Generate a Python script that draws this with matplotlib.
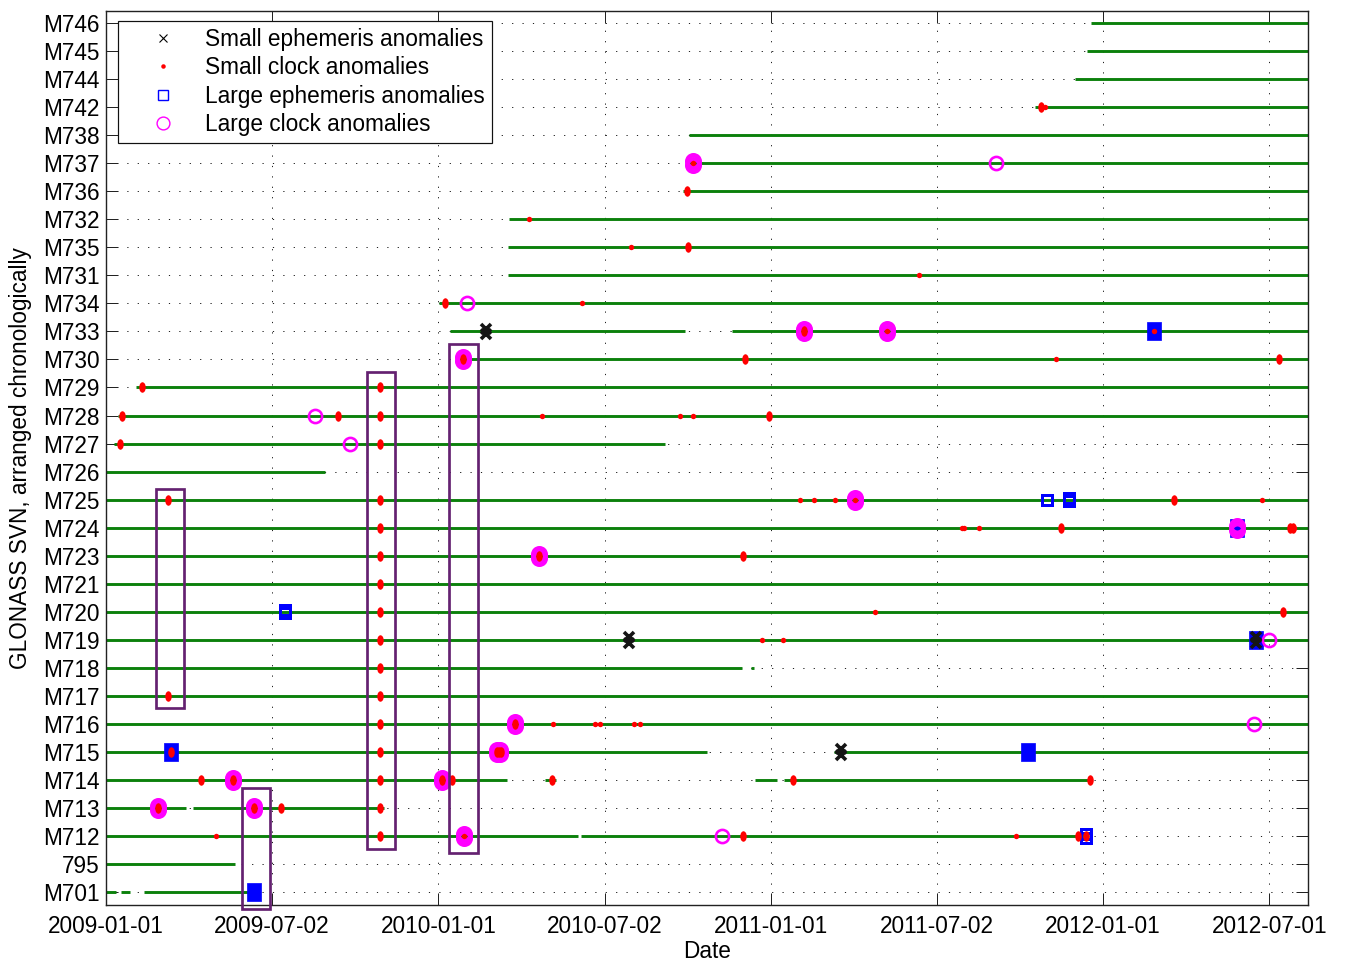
import numpy as np
import matplotlib
matplotlib.use('Agg')
import matplotlib.pyplot as plt
import matplotlib.dates as mdates
from matplotlib.path import Path
from matplotlib.patches import Rectangle
from matplotlib.lines import Line2D
from matplotlib.markers import MarkerStyle

plt.rcParams['font.family'] = ['Liberation Sans', 'DejaVu Sans']

# ---------------- data ----------------
svn_labels = ['M701', '795', 'M712', 'M713', 'M714', 'M715', 'M716', 'M717', 'M718',
              'M719', 'M720', 'M721', 'M723', 'M724', 'M725', 'M726', 'M727', 'M728',
              'M729', 'M730', 'M733', 'M734', 'M731', 'M735', 'M732', 'M736', 'M737',
              'M738', 'M742', 'M744', 'M745', 'M746']

x_start = '2009-01-01'
x_end = '2012-08-13'
tick_dates = ['2009-01-01', '2009-07-02 12:00', '2010-01-01', '2010-07-02 12:00',
              '2011-01-01', '2011-07-02 12:00', '2012-01-01', '2012-07-01 12:00']
tick_labels = ['2009-01-01', '2009-07-02', '2010-01-01', '2010-07-02',
               '2011-01-01', '2011-07-02', '2012-01-01', '2012-07-01']

END = x_end
avail_svn = ['M701', 'M701', 'M701', '795', 'M712', 'M712', 'M713', 'M713',
             'M714', 'M714', 'M714', 'M714', 'M715', 'M715', 'M716', 'M717',
             'M718', 'M718', 'M719', 'M720', 'M721', 'M723', 'M724', 'M725',
             'M726', 'M727', 'M728', 'M729', 'M730', 'M733', 'M733', 'M734',
             'M731', 'M735', 'M732', 'M736', 'M737', 'M738', 'M742', 'M744',
             'M745', 'M746']
avail_start = ['2009-01-01', '2009-01-17', '2009-02-12', '2009-01-01', '2009-01-01', '2010-06-07',
               '2009-01-01', '2009-04-06', '2009-01-01', '2010-04-28', '2010-12-15', '2011-01-16',
               '2009-01-01', '2011-03-11', '2009-01-01', '2009-01-01', '2009-01-01', '2010-12-10',
               '2009-01-01', '2009-01-01', '2009-01-01', '2009-01-01', '2009-01-01', '2009-01-01',
               '2009-01-01', '2009-01-10', '2009-01-14', '2009-02-03', '2010-01-21', '2010-01-14',
               '2010-11-20', '2010-01-02', '2010-03-18', '2010-03-19', '2010-03-20', '2010-09-27',
               '2010-10-03', '2010-10-03', '2011-10-18', '2011-12-01', '2011-12-14', '2011-12-19']
avail_end = ['2009-01-12', '2009-01-27', '2009-06-14', '2009-05-23', '2010-06-03', '2011-12-16',
             '2009-03-30', '2009-11-02', '2010-03-17', '2010-05-10', '2011-01-08', '2011-12-18',
             '2010-10-23', END, END, END, '2010-11-30', '2010-12-14',
             END, END, END, END, END, END,
             '2009-08-30', '2010-09-07', END, END, END, '2010-09-29',
             END, END, END, END, END, END,
             END, END, END, END, END, END]

# small ephemeris anomalies (black x), n = number of overlapping detections
small_eph_svn = ['M733', 'M719', 'M715', 'M719']
small_eph_date = ['2010-02-22', '2010-07-29', '2011-03-19', '2012-06-17']
small_eph_n = [2, 2, 2, 2]

# small clock anomalies (red dots)
box3_svn = ['M712', 'M713', 'M714', 'M715', 'M716', 'M717', 'M718', 'M719', 'M720',
            'M721', 'M723', 'M724', 'M725', 'M727', 'M728', 'M729']
small_clk_svn = (['M725', 'M717'] + box3_svn +
                 ['M742', 'M742', 'M737', 'M736', 'M732', 'M735', 'M735', 'M731',
                  'M734', 'M734', 'M733', 'M733', 'M733',
                  'M730', 'M730', 'M730', 'M730', 'M729',
                  'M728', 'M728', 'M728', 'M728', 'M728', 'M728', 'M727',
                  'M725', 'M725', 'M725', 'M725', 'M725', 'M725',
                  'M724', 'M724', 'M724', 'M724', 'M724', 'M724', 'M724',
                  'M723', 'M723', 'M720', 'M720', 'M719', 'M719',
                  'M716', 'M716', 'M716', 'M716', 'M716', 'M716',
                  'M715', 'M715', 'M715', 'M715',
                  'M714', 'M714', 'M714', 'M714', 'M714', 'M714', 'M714',
                  'M713', 'M713', 'M713',
                  'M712', 'M712', 'M712', 'M712', 'M712', 'M712'])
small_clk_date = (['2009-03-10', '2009-03-10'] + ['2009-10-29'] * len(box3_svn) +
                  ['2011-10-25', '2011-10-29', '2010-10-08', '2010-10-01', '2010-04-10',
                   '2010-07-31', '2010-10-02', '2011-06-13',
                   '2010-01-08', '2010-06-08', '2011-02-07', '2011-05-09', '2012-02-26',
                   '2010-01-28', '2010-12-04', '2011-11-10', '2012-07-12', '2009-02-09',
                   '2009-01-19', '2009-09-13', '2010-04-25', '2010-09-23', '2010-10-08',
                   '2010-12-30', '2009-01-16',
                   '2011-02-02', '2011-02-17', '2011-03-13', '2011-04-03', '2012-03-19',
                   '2012-06-24',
                   '2011-07-30', '2011-08-01', '2011-08-18', '2011-11-16', '2012-07-24',
                   '2012-07-27', '2012-07-29',
                   '2010-04-21', '2010-12-01', '2011-04-25', '2012-07-17', '2010-12-22',
                   '2011-01-15',
                   '2010-03-26', '2010-05-07', '2010-06-22', '2010-06-28', '2010-08-04',
                   '2010-08-10',
                   '2009-03-13', '2010-03-06', '2010-03-09', '2010-03-11',
                   '2009-04-15', '2009-05-21', '2010-01-05', '2010-01-16', '2010-05-06',
                   '2011-01-25', '2011-12-18',
                   '2009-02-27', '2009-06-12', '2009-07-12',
                   '2009-05-02', '2010-01-29', '2010-12-01', '2011-09-27', '2011-12-04',
                   '2011-12-13'])
small_clk_n = ([2, 2] + [2] * len(box3_svn) +
               [2, 1, 1, 2, 1, 1, 2, 1,
                2, 1, 2, 1, 1,
                2, 2, 1, 2, 2,
                2, 2, 1, 1, 1, 2, 2,
                1, 1, 1, 1, 2, 1,
                1, 1, 1, 2, 2, 2, 1,
                2, 2, 1, 2, 1, 1,
                2, 1, 1, 1, 1, 1,
                2, 2, 2, 2,
                2, 2, 2, 2, 2, 2, 2,
                2, 2, 2,
                1, 1, 2, 1, 2, 2])

# large ephemeris anomalies (blue squares)
large_eph_svn = ['M715', 'M701', 'M720', 'M715', 'M725', 'M725', 'M712', 'M733', 'M724', 'M719']
large_eph_date = ['2009-03-13', '2009-06-13', '2009-07-17', '2011-10-11', '2011-10-31',
                  '2011-11-25', '2011-12-13', '2012-02-26', '2012-05-27', '2012-06-17']
large_eph_n = [3, 3, 2, 3, 1, 2, 2, 3, 3, 3]

# large clock anomalies (magenta circles)
large_clk_svn = ['M713', 'M714', 'M713', 'M728', 'M727', 'M714', 'M730', 'M712', 'M734',
                 'M715', 'M715', 'M716', 'M723', 'M737', 'M712', 'M733', 'M725', 'M733',
                 'M737', 'M724', 'M716', 'M719']
large_clk_date = ['2009-02-27', '2009-05-21', '2009-06-12', '2009-08-18', '2009-09-26',
                  '2010-01-05', '2010-01-28', '2010-01-29', '2010-02-01', '2010-03-06',
                  '2010-03-10', '2010-03-26', '2010-04-21', '2010-10-08', '2010-11-09',
                  '2011-02-07', '2011-04-03', '2011-05-09', '2011-09-05', '2012-05-27',
                  '2012-06-15', '2012-07-01']
large_clk_n = [2, 2, 2, 1, 1, 2, 2, 2, 1, 2, 2, 2, 2, 2, 1, 2, 2, 2, 1, 2, 1, 1]

# highlighted groups (purple boxes): date range and row range
box_start = ['2009-02-25', '2009-05-30', '2009-10-15', '2010-01-13']
box_end = ['2009-03-28', '2009-06-30', '2009-11-14', '2010-02-13']
box_bottom = [6.55, -0.59, 1.53, 1.38]
box_top = [14.39, 3.70, 18.54, 19.55]

legend_labels = ['Small ephemeris anomalies', 'Small clock anomalies',
                 'Large ephemeris anomalies', 'Large clock anomalies']

# ---------------- helpers ----------------
def dn(s):
    return mdates.datestr2num(s)

row = {s: i for i, s in enumerate(svn_labels)}

GREEN = '#0b800b'
RED = '#ff0000'
BLUE = '#0000ff'
MAG = '#ff00ff'
PURPLE = '#642170'
PX = 0.72  # points per pixel at dpi 100
FS = 16.3

circ = Path.unit_circle()
ellipse = MarkerStyle(Path(circ.vertices * np.array([0.62, 1.0]), circ.codes))
tall_rect = MarkerStyle(Path([(-0.39, -0.5), (0.39, -0.5), (0.39, 0.5), (-0.39, 0.5), (-0.39, -0.5)],
                             closed=True))

# ---------------- figure ----------------
fig = plt.figure(figsize=(13.46, 9.66), dpi=100)
ax = fig.add_axes([106 / 1346, 61 / 966, 1202 / 1346, 894 / 966])

# availability lines
for s, a, b in zip(avail_svn, avail_start, avail_end):
    ax.plot([dn(a), dn(b)], [row[s], row[s]], color=GREEN, lw=2.9 * PX,
            solid_capstyle='butt', zorder=2)

# large ephemeris
for s, d, n in zip(large_eph_svn, large_eph_date, large_eph_n):
    x, y = dn(d), row[s]
    if n >= 3:
        ax.plot([x], [y], ls='none', marker=tall_rect, ms=18 * PX, mfc=BLUE, mec=BLUE,
                mew=0.5, zorder=3)
    elif n == 2:
        ax.plot([x, x], [y - 0.06, y + 0.06], ls='none', marker='s', ms=10.5 * PX,
                mfc='none', mec=BLUE, mew=3.0 * PX, zorder=3)
    else:
        ax.plot([x], [y], ls='none', marker='s', ms=10.5 * PX, mfc='none', mec=BLUE,
                mew=3.0 * PX, zorder=3)

# large clock
for s, d, n in zip(large_clk_svn, large_clk_date, large_clk_n):
    x, y = dn(d), row[s]
    if n >= 2:
        ax.plot([x, x], [y - 0.07, y + 0.07], ls='none', marker='o', ms=12.5 * PX,
                mfc='none', mec=MAG, mew=4.5 * PX, zorder=4)
    else:
        ax.plot([x], [y], ls='none', marker='o', ms=13.2 * PX, mfc='none', mec=MAG,
                mew=2.6 * PX, zorder=4)

# small clock
for s, d, n in zip(small_clk_svn, small_clk_date, small_clk_n):
    x, y = dn(d), row[s]
    if n >= 2:
        ax.plot([x], [y], ls='none', marker=ellipse, ms=10.5 * PX, mfc=RED, mec='none', zorder=5)
    else:
        ax.plot([x], [y], ls='none', marker='o', ms=5.4 * PX, mfc=RED, mec='none', zorder=5)

# small ephemeris
for s, d, n in zip(small_eph_svn, small_eph_date, small_eph_n):
    x, y = dn(d), row[s]
    ys = [y - 0.1, y + 0.1] if n >= 2 else [y]
    ax.plot([x] * len(ys), ys, ls='none', marker='x', ms=10 * PX, mec='#151515',
            mew=3.6 * PX, zorder=6)

# purple boxes
for a, b, y0, y1 in zip(box_start, box_end, box_bottom, box_top):
    ax.add_patch(Rectangle((dn(a), y0), dn(b) - dn(a), y1 - y0, fill=False,
                           ec=PURPLE, lw=2.7 * PX, zorder=7, clip_on=False))

# axes
ax.set_xlim(dn(x_start), dn(x_end))
ax.set_ylim(-0.46, 31.43)
ax.set_xticks([dn(t) for t in tick_dates])
ax.set_xticklabels(tick_labels)
ax.set_yticks(range(len(svn_labels)))
ax.set_yticklabels(svn_labels)
ax.tick_params(axis='both', direction='in', length=12 * PX, width=1.0 * PX,
               top=True, right=True, labelsize=FS, color='#222222')
ax.tick_params(axis='y', pad=4.5)
ax.tick_params(axis='x', pad=7.5)
ax.set_axisbelow(True)
ax.grid(True, color='#222222', lw=1.0 * PX, linestyle=(0, (1.2, 9.2)))
for sp in ax.spines.values():
    sp.set_linewidth(1.4 * PX)
    sp.set_color('#222222')

ax.set_xlabel('Date', fontsize=FS, labelpad=1.5)
ax.set_ylabel('GLONASS SVN, arranged chronologically', fontsize=FS, labelpad=8)

handles = [
    Line2D([], [], ls='none', marker='x', ms=8 * PX, mec='k', mew=1.1 * PX),
    Line2D([], [], ls='none', marker='o', ms=4.5 * PX, mfc=RED, mec='none'),
    Line2D([], [], ls='none', marker='s', ms=10.5 * PX, mfc='none', mec=BLUE, mew=1.4 * PX),
    Line2D([], [], ls='none', marker='o', ms=12.8 * PX, mfc='none', mec=MAG, mew=1.4 * PX),
]
leg = ax.legend(handles, legend_labels, loc='upper left',
                bbox_to_anchor=(12 / 1202, 1 - 10 / 894), borderaxespad=0,
                fontsize=FS, fancybox=False, framealpha=1, edgecolor='#111111',
                handlelength=3.35, handletextpad=0.2, labelspacing=0.24,
                borderpad=0.3)
leg.get_frame().set_linewidth(1.2 * PX)
leg.set_zorder(10)

fig.savefig('out.png', dpi=100)
